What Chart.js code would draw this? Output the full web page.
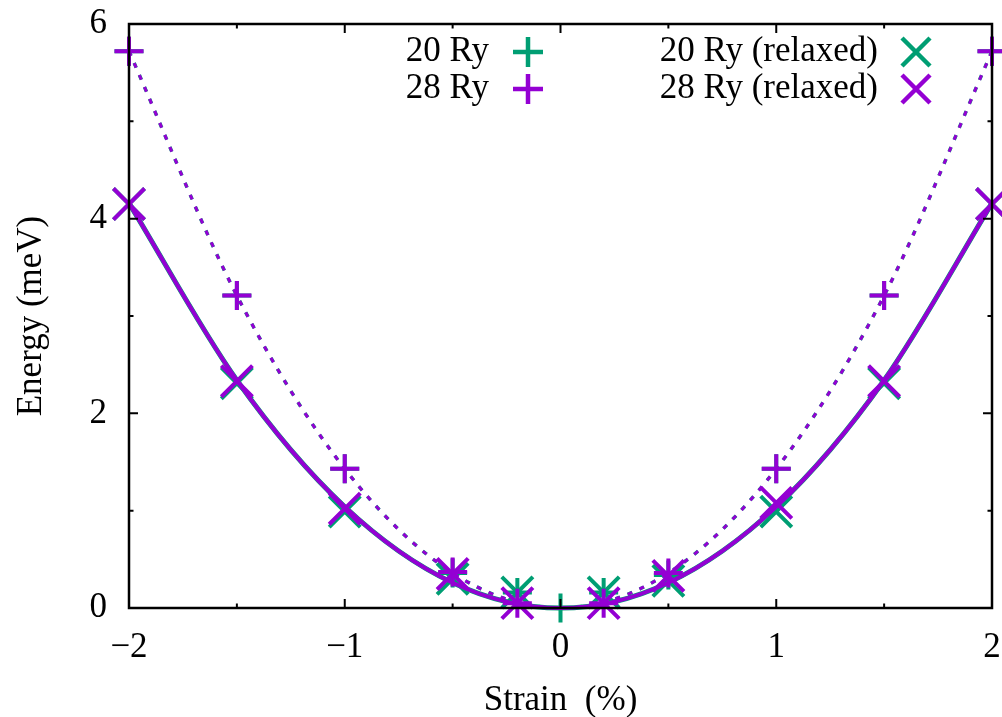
<!DOCTYPE html>
<html>
<head>
<meta charset="utf-8">
<script src="https://cdn.jsdelivr.net/npm/chart.js@4.4.1/dist/chart.umd.min.js"></script>
<style>
  html, body { margin: 0; padding: 0; background: #fff; }
  #wrap { width: 1002px; height: 717px; }
</style>
</head>
<body>
<div id="wrap"><canvas id="c" width="1002" height="717"></canvas></div>
<script>
// values (strain in %, energy in meV)
const strain20 = [-2, -1.5, -1, -0.5, -0.2, 0, 0.2, 0.5, 1, 1.5, 2];
const energy20 = [5.72, 3.21, 1.43, 0.36, 0.16, 0, 0.16, 0.34, 1.43, 3.21, 5.72];
const strain28 = [-2, -1.5, -1, -0.5, -0.2, 0.2, 0.5, 1, 1.5, 2];
const energy28 = [5.72, 3.21, 1.43, 0.37, 0.05, 0.05, 0.36, 1.43, 3.21, 5.72];
const strainRelaxed = [-2, -1.5, -1, -0.5, -0.2, 0.2, 0.5, 1, 1.5, 2];
const energy20Relaxed = [4.15, 2.31, 0.99, 0.30, 0.16, 0.16, 0.28, 0.99, 2.31, 4.15];
const energy28Relaxed = [4.15, 2.33, 1.02, 0.35, 0.05, 0.05, 0.33, 1.08, 2.33, 4.15];

// fit curves, read at half-percent steps
const fitStrain = [-2, -1.5, -1, -0.5, 0, 0.5, 1, 1.5, 2];
const fitUnrelaxed = [5.72, 3.21, 1.43, 0.36, 0, 0.36, 1.43, 3.21, 5.72];
const fitRelaxed = [4.16, 2.34, 1.04, 0.26, 0, 0.26, 1.04, 2.34, 4.16];

const xTicks = [-2, -1, 0, 1, 2];
const yTicks = [0, 2, 4, 6];

const purple = '#9400d3';
const green = '#009e73';
const serif = '"Liberation Serif", "DejaVu Serif", serif';

const pts = (xs, ys) => xs.map((x, i) => ({ x: x, y: ys[i] }));

function markerSet(label, xs, ys, color, style) {
  return {
    label: label,
    data: pts(xs, ys),
    showLine: false,
    clip: false,
    pointStyle: style,
    pointRadius: style === 'crossRot' ? 22 : 14.5,
    pointBorderWidth: 4,
    pointBorderColor: color,
    pointBackgroundColor: color,
    pointHoverRadius: 0
  };
}

function curveSet(xs, ys, color, dotted, width) {
  return {
    data: pts(xs, ys),
    showLine: true,
    clip: false,
    pointRadius: 0,
    borderColor: color,
    borderWidth: width,
    borderDash: dotted ? [5, 8] : [],
    cubicInterpolationMode: 'monotone',
    fill: false
  };
}

// draws the frame, inward ticks on all four sides, and the key
const framePlugin = {
  id: 'frame',
  afterDraw(chart) {
    const ctx = chart.ctx;
    const a = chart.chartArea;
    const xs = chart.scales.x, ys = chart.scales.y;
    ctx.save();
    ctx.strokeStyle = '#000';
    ctx.lineWidth = 2;
    for (let v = -2; v <= 2; v += 0.5) {
      const px = xs.getPixelForValue(v);
      const len = Number.isInteger(v) ? 9 : 4.5;
      ctx.beginPath();
      ctx.moveTo(px, a.bottom); ctx.lineTo(px, a.bottom - len);
      ctx.moveTo(px, a.top); ctx.lineTo(px, a.top + len);
      ctx.stroke();
    }
    for (let v = 0; v <= 6; v += 1) {
      const py = ys.getPixelForValue(v);
      const len = v % 2 === 0 ? 9 : 4.5;
      ctx.beginPath();
      ctx.moveTo(a.left, py); ctx.lineTo(a.left + len, py);
      ctx.moveTo(a.right, py); ctx.lineTo(a.right - len, py);
      ctx.stroke();
    }
    ctx.lineWidth = 2.5;
    ctx.strokeRect(a.left, a.top, a.right - a.left, a.bottom - a.top);

    // key
    const rows = [
      { text: '20 Ry', color: green, style: 'cross', tx: 489, mx: 528, y: 52 },
      { text: '28 Ry', color: purple, style: 'cross', tx: 489, mx: 528, y: 89 },
      { text: '20 Ry (relaxed)', color: green, style: 'crossRot', tx: 878, mx: 916, y: 52 },
      { text: '28 Ry (relaxed)', color: purple, style: 'crossRot', tx: 878, mx: 916, y: 89 }
    ];
    ctx.font = '35px ' + serif;
    ctx.textAlign = 'right';
    ctx.textBaseline = 'middle';
    rows.forEach(r => {
      ctx.fillStyle = '#000';
      ctx.fillText(r.text, r.tx, r.y);
      ctx.strokeStyle = r.color;
      ctx.lineWidth = 4.5;
      const h = r.style === 'cross' ? 15 : 14;
      ctx.beginPath();
      if (r.style === 'cross') {
        ctx.moveTo(r.mx - h, r.y); ctx.lineTo(r.mx + h, r.y);
        ctx.moveTo(r.mx, r.y - h); ctx.lineTo(r.mx, r.y + h);
      } else {
        ctx.moveTo(r.mx - h, r.y - h); ctx.lineTo(r.mx + h, r.y + h);
        ctx.moveTo(r.mx + h, r.y - h); ctx.lineTo(r.mx - h, r.y + h);
      }
      ctx.stroke();
    });
    ctx.restore();
  }
};

new Chart(document.getElementById('c'), {
  type: 'scatter',
  data: {
    datasets: [
      markerSet('28 Ry (relaxed)', strainRelaxed, energy28Relaxed, purple, 'crossRot'),
      markerSet('28 Ry', strain28, energy28, purple, 'cross'),
      curveSet(fitStrain, fitRelaxed, purple, false, 4),
      curveSet(fitStrain, fitUnrelaxed, purple, true, 3),
      markerSet('20 Ry (relaxed)', strainRelaxed, energy20Relaxed, green, 'crossRot'),
      markerSet('20 Ry', strain20, energy20, green, 'cross'),
      curveSet(fitStrain, fitRelaxed, green, false, 5),
      curveSet(fitStrain, fitUnrelaxed, green, true, 3.5)
    ]
  },
  options: {
    responsive: false,
    animation: false,
    events: [],
    layout: { autoPadding: false, padding: { top: 24, right: 10, left: 0, bottom: 0 } },
    plugins: { legend: { display: false }, tooltip: { enabled: false } },
    scales: {
      x: {
        type: 'linear', min: -2, max: 2,
        afterFit: s => { s.height = 109; },
        afterBuildTicks: s => { s.ticks = xTicks.map(v => ({ value: v })); },
        // tickLength only spaces the labels; grid itself is hidden
        grid: { display: false, drawTicks: true, tickLength: 19 },
        border: { display: false },
        ticks: {
          padding: 0, color: '#000', font: { family: serif, size: 35 },
          maxRotation: 0,
          callback: v => String(v).replace('-', '\u2212')
        },
        title: {
          display: true, text: 'Strain  (%)', color: '#000',
          font: { family: serif, size: 35 }, padding: { top: 0, bottom: -5 }
        }
      },
      y: {
        type: 'linear', min: 0, max: 6,
        afterFit: s => { s.width = 129; },
        afterBuildTicks: s => { s.ticks = yTicks.map(v => ({ value: v })); },
        grid: { display: false, drawTicks: true, tickLength: 22 },
        border: { display: false },
        ticks: {
          padding: 0, color: '#000', font: { family: serif, size: 35 }
        },
        title: {
          display: true, text: 'Energy (meV)', color: '#000',
          font: { family: serif, size: 35 }, padding: { top: 11, bottom: 0 }
        }
      }
    }
  },
  plugins: [framePlugin]
});
</script>
</body>
</html>
